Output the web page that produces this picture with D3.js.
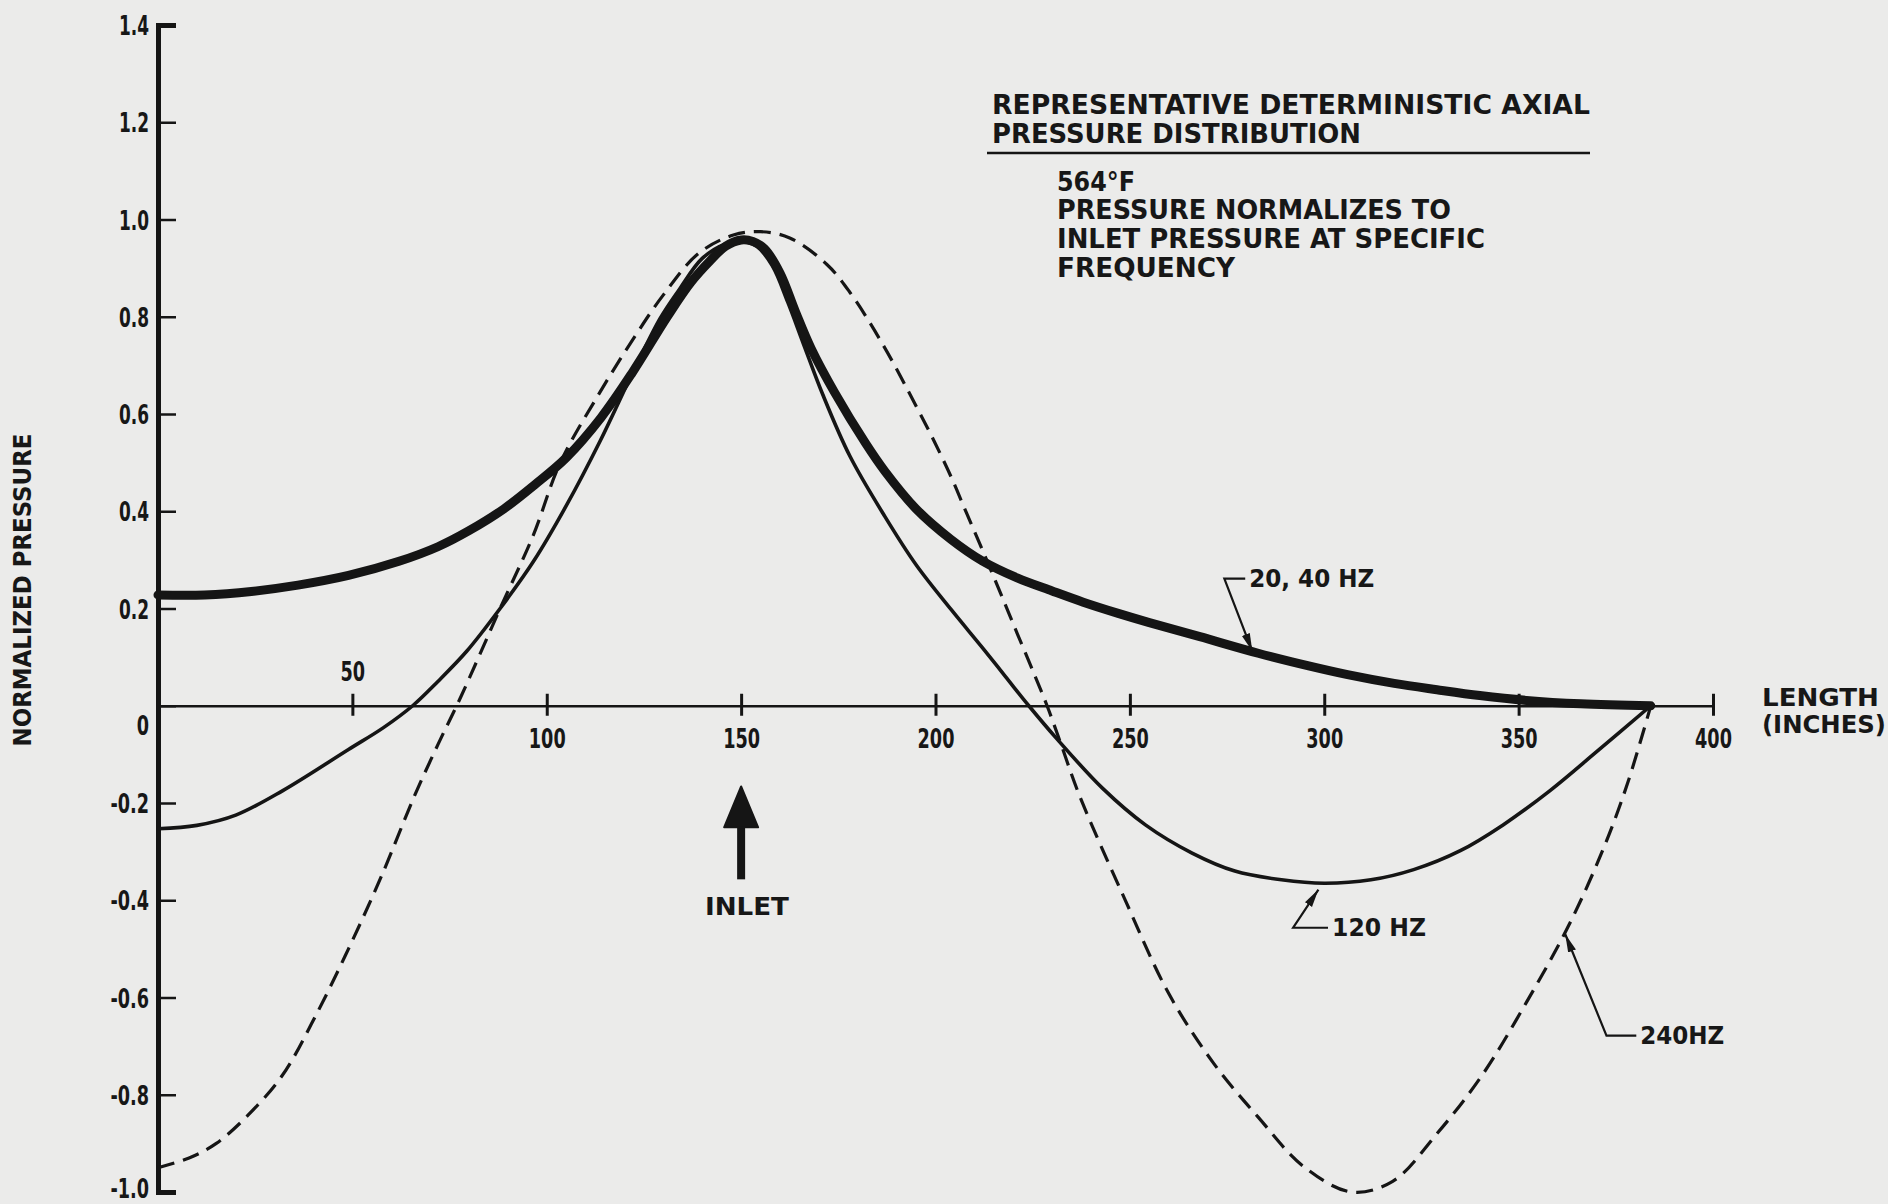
<!DOCTYPE html>
<html>
<head>
<meta charset="utf-8">
<script src="https://cdn.jsdelivr.net/npm/d3@7"></script>
<style>
body { margin: 0; background: #ebebea; }
svg { display: block; }
text { font-family: "Liberation Sans Narrow", "DejaVu Sans Condensed", "Arial Narrow", sans-serif; font-weight: bold; fill: #171717; }
</style>
</head>
<body>
<div id="chart"></div>
<script>
// values: length (inches) vs normalized pressure
const xTicks = [50, 100, 150, 200, 250, 300, 350, 400]
const yTicks = [1.4, 1.2, 1.0, 0.8, 0.6, 0.4, 0.2, 0, -0.2, -0.4, -0.6, -0.8, -1.0]

// 20, 40 HZ (heavy line)
const hz2040X = [0, 12, 24, 36, 49, 62, 72, 80, 89, 97, 105, 114, 122, 131, 137, 142, 146, 150, 153, 156, 160, 164, 168, 174, 182, 187, 195, 204, 212, 221, 230, 238, 247, 255, 268, 283, 296, 306, 318, 329, 340, 352, 366, 384]
const hz2040Y = [0.228, 0.228, 0.235, 0.248, 0.268, 0.297, 0.327, 0.36, 0.405, 0.455, 0.51, 0.593, 0.685, 0.80, 0.87, 0.915, 0.945, 0.958, 0.955, 0.94, 0.89, 0.81, 0.735, 0.645, 0.54, 0.482, 0.405, 0.342, 0.298, 0.263, 0.236, 0.213, 0.19, 0.171, 0.142, 0.108, 0.082, 0.064, 0.046, 0.033, 0.021, 0.011, 0.004, 0]

// 120 HZ (thin line)
const hz120X = [0, 10, 20, 32, 49, 58, 65.5, 72, 79.4, 88, 96.6, 105.2, 113.7, 122.3, 129.2, 134, 140, 146, 150, 154, 158, 162, 166, 171, 178, 187, 195, 204, 212, 218, 224, 231, 243, 254, 266, 277, 289, 300, 312, 323, 335, 346, 358, 370, 384]
const hz120Y = [-0.253, -0.246, -0.225, -0.175, -0.09, -0.045, 0, 0.05, 0.112, 0.20, 0.297, 0.414, 0.544, 0.688, 0.797, 0.855, 0.92, 0.95, 0.955, 0.945, 0.905, 0.83, 0.745, 0.64, 0.513, 0.389, 0.29, 0.198, 0.12, 0.06, 0, -0.066, -0.17, -0.245, -0.303, -0.34, -0.358, -0.365, -0.358, -0.337, -0.298, -0.245, -0.175, -0.095, 0]

// 240HZ (dashed line)
const hz240X = [0, 8, 15, 23.4, 32, 40.4, 49, 57.5, 66, 72, 78, 88, 96.5, 103.5, 113.7, 122.3, 130, 139, 148, 155, 162.5, 172, 178, 186.6, 195.3, 199.6, 204, 208, 212.4, 216.7, 221, 225.3, 228.7, 232.2, 237, 248.6, 260, 271.6, 283, 294.6, 307, 317.6, 329, 340.6, 352, 363, 372, 378, 384]
const hz240Y = [-0.95, -0.93, -0.90, -0.84, -0.76, -0.64, -0.50, -0.35, -0.185, -0.08, 0.02, 0.2, 0.35, 0.5, 0.645, 0.755, 0.845, 0.93, 0.968, 0.975, 0.962, 0.908, 0.85, 0.741, 0.612, 0.545, 0.471, 0.396, 0.314, 0.232, 0.149, 0.067, 0, -0.077, -0.184, -0.396, -0.592, -0.736, -0.846, -0.947, -1.0, -0.978, -0.88, -0.76, -0.61, -0.45, -0.29, -0.16, 0]

// ----------------------------------------------------------
const width = 1888
const height = 1204

const svg = d3.select("div#chart").append("svg").attr("width", width).attr("height", height)

const x = d3.scaleLinear().domain([0, 400]).range([158, 1713])
const y = d3.scaleLinear().domain([-1.0, 1.4]).range([1192, 25])

const ink = "#151515"

// tick label width like the condensed lettering of the original
const labelLength = s => s.replace(/[^0-9]/g, "").length * 12.3 + (s.includes(".") ? 5.5 : 0) + (s.includes("-") ? 8.5 : 0)

//Axis:
const yFormat = d => d === 0 ? "0" : d.toFixed(1)
const yAxis = d3.axisLeft(y).tickValues(yTicks).tickSize(-18).tickSizeOuter(-18).tickPadding(10).tickFormat(yFormat)
const yAxisGroup = svg.append("g").attr("id", "yAxisGroup").attr("transform", `translate(${x(0)}, 0)`).call(yAxis)
yAxisGroup.select(".domain").attr("stroke", ink).attr("stroke-width", 5)
yAxisGroup.selectAll(".tick line").attr("stroke", ink).attr("stroke-width", 2.5)
yAxisGroup.selectAll(".tick text")
    .style("font-size", "27px").attr("fill", ink).attr("x", -9)
    .attr("textLength", d => labelLength(yFormat(d))).attr("lengthAdjust", "spacingAndGlyphs")
    .attr("dy", d => d === 0 ? "1.05em" : d === -1 ? "0.22em" : "0.36em")

const xAxis = d3.axisBottom(x).tickValues(xTicks).tickSize(10).tickSizeOuter(0)
const xAxisGroup = svg.append("g").attr("id", "xAxisGroup").attr("transform", `translate(0, ${y(0)})`).call(xAxis)
xAxisGroup.select(".domain").attr("stroke", ink).attr("stroke-width", 2.5)
xAxisGroup.selectAll(".tick line").attr("stroke", ink).attr("stroke-width", 3).attr("y1", -12).attr("y2", 10)
xAxisGroup.selectAll(".tick text")
    .style("font-size", "27px").attr("fill", ink)
    .attr("textLength", d => labelLength(String(d))).attr("lengthAdjust", "spacingAndGlyphs")
    .attr("y", d => d === 50 ? -25 : 42).attr("dy", 0)

//Series:
const line = d3.line().x(d => x(d[0])).y(d => y(d[1])).curve(d3.curveCatmullRom.alpha(0.5))
const curves = svg.append("g").attr("id", "curves").attr("fill", "none").attr("stroke", ink)
    .attr("stroke-linejoin", "round").attr("stroke-linecap", "butt")

curves.append("path").datum(d3.zip(hz240X, hz240Y))
    .attr("d", line).attr("stroke-width", 3.2).attr("stroke-dasharray", "17,9")
curves.append("path").datum(d3.zip(hz120X, hz120Y))
    .attr("d", line).attr("stroke-width", 3.6)
curves.append("path").datum(d3.zip(hz2040X, hz2040Y))
    .attr("d", line).attr("stroke-width", 9).attr("stroke-linecap", "round")

//Leaders with arrowheads:
svg.append("defs").append("marker")
    .attr("id", "tip").attr("markerUnits", "userSpaceOnUse")
    .attr("viewBox", "0 -5 18 10").attr("refX", 18).attr("refY", 0)
    .attr("markerWidth", 18).attr("markerHeight", 10).attr("orient", "auto")
    .append("path").attr("d", "M0,-4.2L18,0L0,4.2Z").attr("fill", ink)

const leaders = [
    {label: "20, 40 HZ", lx: 280.7, ly: 0.245, kx: 274.3, tx: 281.5, ty: 0.112, len: 125},
    {label: "120 HZ", lx: 302, ly: -0.473, kx: 292, tx: 298.5, ty: -0.378, len: 94},
    {label: "240HZ", lx: 381.3, ly: -0.695, kx: 372.6, tx: 362, ty: -0.47, len: 84}
]
const leaderGroup = svg.append("g").attr("id", "leaders")
leaders.forEach(d => {
    const yk = y(d.ly) - 8
    leaderGroup.append("path")
        .attr("d", `M${x(d.lx) - 4},${yk}H${x(d.kx)}L${x(d.tx)},${y(d.ty)}`)
        .attr("fill", "none").attr("stroke", ink).attr("stroke-width", 2.2)
        .attr("marker-end", "url(#tip)")
    leaderGroup.append("text").text(d.label)
        .attr("x", x(d.lx)).attr("y", y(d.ly))
        .attr("textLength", d.len).attr("lengthAdjust", "spacingAndGlyphs")
        .style("font-size", "24px")
})

//Inlet arrow:
const inlet = svg.append("g").attr("id", "inlet")
inlet.append("line")
    .attr("x1", x(150)).attr("x2", x(150)).attr("y1", y(-0.24)).attr("y2", y(-0.357))
    .attr("stroke", ink).attr("stroke-width", 8)
inlet.append("path")
    .attr("d", `M${x(150)},${y(-0.166)}L${x(150) + 17},${y(-0.25)}L${x(150) - 17},${y(-0.25)}Z`)
    .attr("fill", ink).attr("stroke", ink).attr("stroke-width", 2).attr("stroke-linejoin", "round")
inlet.append("text").text("INLET")
    .attr("x", x(151.5)).attr("y", 915).attr("text-anchor", "middle")
    .attr("textLength", 84).attr("lengthAdjust", "spacingAndGlyphs")
    .style("font-size", "25px")

//Axis titles:
svg.append("text").text("NORMALIZED PRESSURE")
    .attr("transform", "translate(31, 590) rotate(-90)").attr("text-anchor", "middle")
    .attr("textLength", 313).attr("lengthAdjust", "spacingAndGlyphs")
    .style("font-size", "24px")
svg.append("text").text("LENGTH").attr("x", 1762).attr("y", 706)
    .attr("textLength", 117).attr("lengthAdjust", "spacingAndGlyphs").style("font-size", "24px")
svg.append("text").text("(INCHES)").attr("x", 1762).attr("y", 733)
    .attr("textLength", 124).attr("lengthAdjust", "spacingAndGlyphs").style("font-size", "24px")

//Title block:
const titleLines = [
    {t: "REPRESENTATIVE DETERMINISTIC AXIAL", x: 992, y: 114, len: 598},
    {t: "PRESSURE DISTRIBUTION", x: 992, y: 143, len: 369},
    {t: "564°F", x: 1057, y: 191, len: 78},
    {t: "PRESSURE NORMALIZES TO", x: 1057, y: 219, len: 394},
    {t: "INLET PRESSURE AT SPECIFIC", x: 1057, y: 248, len: 428},
    {t: "FREQUENCY", x: 1057, y: 277, len: 178}
]
const titleGroup = svg.append("g").attr("id", "titleGroup")
titleGroup.selectAll("text").data(titleLines).enter().append("text")
    .text(d => d.t).attr("x", d => d.x).attr("y", d => d.y)
    .attr("textLength", d => d.len).attr("lengthAdjust", "spacingAndGlyphs")
    .style("font-size", "26px")
titleGroup.append("line").attr("x1", 987).attr("x2", 1590).attr("y1", 153).attr("y2", 153)
    .attr("stroke", ink).attr("stroke-width", 2.5)
</script>
</body>
</html>
